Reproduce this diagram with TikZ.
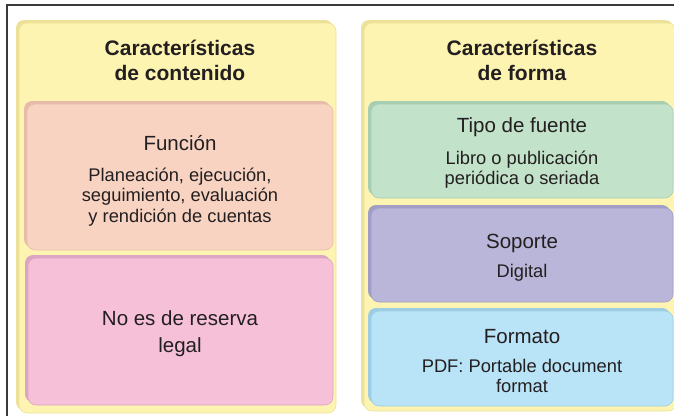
\documentclass[tikz,border=0pt]{standalone}
\usepackage{fontspec}
\setmainfont{Liberation Sans}
\definecolor{ink}{HTML}{231F20}
\definecolor{frameC}{HTML}{3A3A3A}
\definecolor{yelF}{HTML}{FDF4B2}
\definecolor{yelE}{HTML}{EDE199}
\definecolor{salF}{HTML}{F8D3C2}
\definecolor{salE}{HTML}{E6BCA9}
\definecolor{pinF}{HTML}{F5C0D8}
\definecolor{pinE}{HTML}{DCA5C1}
\definecolor{grnF}{HTML}{C2E2C9}
\definecolor{grnE}{HTML}{A7CDB2}
\definecolor{lavF}{HTML}{BAB6D9}
\definecolor{lavE}{HTML}{A19EC6}
\definecolor{bluF}{HTML}{B9E3F6}
\definecolor{bluE}{HTML}{9ECDE3}
\newcommand\myHead{\fontsize{21}{24}\selectfont\bfseries}
\newcommand\myTitle{\fontsize{20.5}{24}\selectfont}
\newcommand\mySub{\fontsize{18.3}{21}\selectfont}
\tikzset{
  frame/.style={draw=frameC, line width=1.3pt},
  bx/.style 2 args={fill=#1, draw=#2, line width=0.6pt,
    preaction={fill=#2, transform canvas={xshift=-3pt, yshift=3pt}},
    rounded corners=8pt, inner sep=0pt, outer sep=0pt, anchor=north west},
  txt/.style={text=ink, inner sep=0pt, anchor=base},
}
\begin{document}
\begin{tikzpicture}[x=1pt, y=-1pt]
\useasboundingbox (0,0) rectangle (674,415);
% frame
\coordinate (tl) at (7,5);
\coordinate (tr) at (675,5);
\coordinate (bl) at (7,416);
\draw[frame] (tr) -- (tl) -- (bl);
% panels
\node[bx={yelF}{yelE}, minimum width=317pt, minimum height=390pt] (lpanel) at (19,23) {};
\node[bx={yelF}{yelE}, minimum width=312pt, minimum height=388pt] (rpanel) at (364,23) {};
% inner boxes
\node[bx={salF}{salE}, minimum width=306pt, minimum height=146pt] (funbox) at (27,104) {};
\node[bx={pinF}{pinE}, minimum width=305pt, minimum height=147pt] (resbox) at (28,258) {};
\node[bx={grnF}{grnE}, minimum width=302pt, minimum height=94pt] (tipbox) at (371,104) {};
\node[bx={lavF}{lavE}, minimum width=302pt, minimum height=94pt] (supbox) at (371,208) {};
\node[bx={bluF}{bluE}, minimum width=302pt, minimum height=95pt] (forbox) at (371,311) {};
% headings
\node[txt, font=\myHead] (lh1) at (180,55) {Características};
\node[txt, font=\myHead] (lh2) at (180,80) {de contenido};
\node[txt, font=\myHead] (rh1) at (522,55) {Características};
\node[txt, font=\myHead] (rh2) at (522,80) {de forma};
% Funcion
\node[txt, font=\myTitle] (fun0) at (180,150) {Función};
\node[txt, font=\mySub] (fun1) at (180,181) {Planeación, ejecución,};
\node[txt, font=\mySub] (fun2) at (180,201.5) {seguimiento, evaluación};
\node[txt, font=\mySub] (fun3) at (180,222) {y rendición de cuentas};
% No es de reserva
\node[txt, font=\myTitle] (res1) at (180,325) {No es de reserva};
\node[txt, font=\myTitle] (res2) at (180,352) {legal};
% Tipo de fuente
\node[txt, font=\myTitle] (tip0) at (522,132) {Tipo de fuente};
\node[txt, font=\mySub] (tip1) at (522,164) {Libro o publicación};
\node[txt, font=\mySub] (tip2) at (522,184) {periódica o seriada};
% Soporte
\node[txt, font=\myTitle] (sup0) at (522,248) {Soporte};
\node[txt, font=\mySub] (sup1) at (522,277) {Digital};
% Formato
\node[txt, font=\myTitle] (for0) at (522,343) {Formato};
\node[txt, font=\mySub] (for1) at (522,372) {PDF: Portable document};
\node[txt, font=\mySub] (for2) at (522,392) {format};
\end{tikzpicture}
\end{document}
